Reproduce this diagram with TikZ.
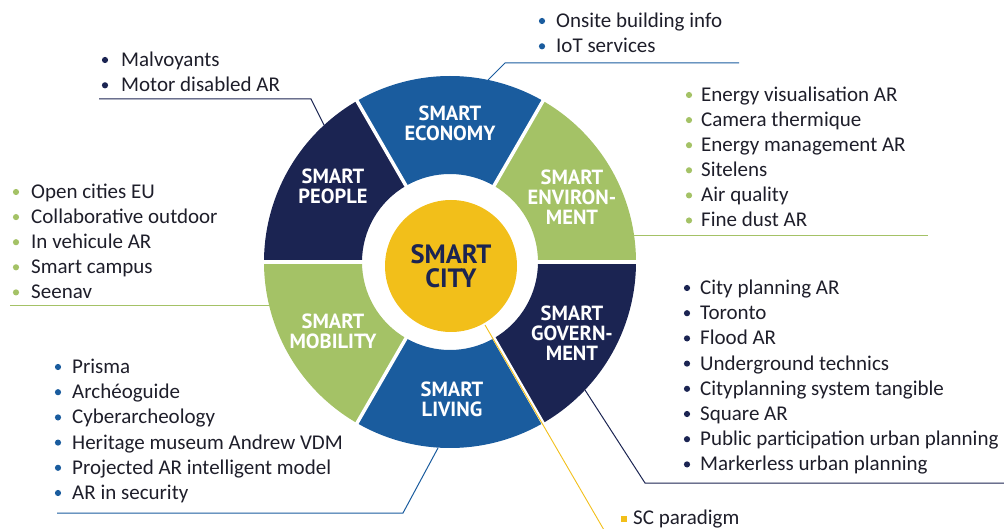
\documentclass[tikz,border=0pt]{standalone}
\usepackage{fontspec}
\setmainfont{Carlito}
\newfontfamily\labfont{PT Sans}
\usetikzlibrary{calc}
\definecolor{snavy}{HTML}{1B2452}
\definecolor{sblue}{HTML}{1A5C9E}
\definecolor{sgreen}{HTML}{A4C266}
\definecolor{syellow}{HTML}{F2BF1A}
\definecolor{txt}{HTML}{1E1E2A}
\begin{document}
\begin{tikzpicture}[x=1pt,y=1pt,
  item/.style={anchor=base west, inner sep=0pt, font=\fontsize{21}{22}\selectfont, text=txt},
  seglabel/.style={align=center, text=white, inner sep=0pt,
    font=\labfont\bfseries\fontsize{20.5}{20}\selectfont},
  citylabel/.style={circle, fill=syellow, minimum size=132pt, inner sep=0pt, align=center,
    text=snavy, font=\labfont\bfseries\fontsize{26.5}{24.5}\selectfont},
  conn/.style={line width=1pt},
  dot/.style={radius=3.1pt},
  gap/.style={white, line width=3.5pt}]
\useasboundingbox (0,0) rectangle (1004,-529);
\coordinate (C) at (450,-262);
% ring segments
\foreach \a/\col in {0/sgreen,60/sblue,120/snavy,180/sgreen,240/sblue,300/snavy}{
  \fill[\col] ($(C)+(\a:186)$) arc[start angle=\a, delta angle=60, radius=186pt]
    -- ($(C)+(\a+60:88)$) arc[start angle=\a+60, delta angle=-60, radius=88pt] -- cycle;
}
\foreach \a in {0,60,...,300}{
  \draw[gap] ($(C)+(\a:84)$) -- ($(C)+(\a:190)$);
}
% segment labels
\node[seglabel] (economy) at (450,-123) {SMART\\ECONOMY};
\node[seglabel] (people) at (333,-186) {SMART\\PEOPLE};
\node[seglabel] (environment) at (572,-197) {SMART\\ENVIRON-\\MENT};
\node[seglabel] (mobility) at (333,-331) {SMART\\MOBILITY};
\node[seglabel] (government) at (572,-333) {SMART\\GOVERN-\\MENT};
\node[seglabel] (living) at (452,-399) {SMART\\LIVING};
\node[citylabel] (city) at (451,-266) {SMART\\CITY};
% connector coordinates
\coordinate (pR) at (324,-125); \coordinate (pK) at (311,-99); \coordinate (pE) at (99,-99);
\coordinate (eR) at (488,-80); \coordinate (eK) at (505,-63); \coordinate (eE) at (739,-63);
\coordinate (nR) at (634,-236); \coordinate (nE) at (928,-236);
\coordinate (mR) at (269,-306); \coordinate (mE) at (10,-306);
\coordinate (lR) at (438,-448); \coordinate (lK) at (403,-513); \coordinate (lE) at (57,-513);
\coordinate (gR) at (585,-390); \coordinate (gK) at (645,-483); \coordinate (gE) at (1004,-483);
\coordinate (sR) at (485,-325); \coordinate (sE) at (604,-530);
\draw[conn, snavy] (pR) -- (pK) -- (pE);
\draw[conn, sblue] (eR) -- (eK) -- (eE);
\draw[conn, sgreen] (nR) -- (nE);
\draw[conn, sgreen] (mR) -- (mE);
\draw[conn, sblue] (lR) -- (lK) -- (lE);
\draw[conn, snavy] (gR) -- (gK) -- (gE);
\draw[line width=0.9pt, syellow] (sR) -- (sE);
% lists
\foreach \t [count=\i] in {Malvoyants, Motor disabled AR}{
  \fill[snavy] (105,{-60-25.3*(\i-1)}) circle[dot];
  \node[item] (pp\i) at (121,{-66.5-25.3*(\i-1)}) {\t};
}
\foreach \t [count=\i] in {Onsite building info, IoT services}{
  \fill[sblue] (542,{-21-25.3*(\i-1)}) circle[dot];
  \node[item] (ec\i) at (556,{-27.5-25.3*(\i-1)}) {\t};
}
\foreach \t [count=\i] in {Energy visualisation AR, Camera thermique, Energy management AR, Sitelens, Air quality, Fine dust AR}{
  \fill[sgreen] (689,{-95-25.1*(\i-1)}) circle[dot];
  \node[item] (en\i) at (701,{-101.5-25.1*(\i-1)}) {\t};
}
\foreach \t [count=\i] in {Open cities EU, Collaborative outdoor, In vehicule AR, Smart campus, Seenav}{
  \fill[sgreen] (16,{-192-25.1*(\i-1)}) circle[dot];
  \node[item] (mo\i) at (31,{-198.5-25.1*(\i-1)}) {\t};
}
\foreach \t [count=\i] in {City planning AR, Toronto, Flood AR, Underground technics, Cityplanning system tangible, Square AR, Public participation urban planning, Markerless urban planning}{
  \fill[snavy] (687,{-288-25.2*(\i-1)}) circle[dot];
  \node[item] (go\i) at (700,{-294.5-25.2*(\i-1)}) {\t};
}
\foreach \t [count=\i] in {Prisma, Archéoguide, Cyberarcheology, Heritage museum Andrew VDM, Projected AR intelligent model, AR in security}{
  \fill[sblue] (58,{-367-25.2*(\i-1)}) circle[dot];
  \node[item] (li\i) at (72,{-373.5-25.2*(\i-1)}) {\t};
}
\fill[syellow] (620.5,-515.5) rectangle (626.5,-521.5);
\node[item] (sc1) at (633,-524.5) {SC paradigm};
\end{tikzpicture}
\end{document}
